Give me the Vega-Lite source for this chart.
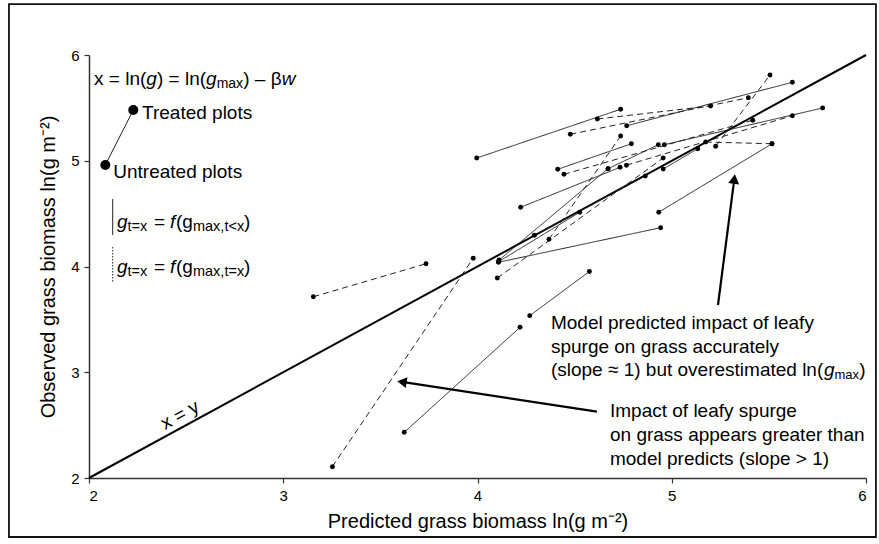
{
  "$schema": "https://vega.github.io/schema/vega-lite/v6.json",
  "width": 777,
  "height": 423,
  "autosize": {"type": "none"},
  "padding": {"left": 89, "top": 55, "right": 13, "bottom": 66},
  "background": "white",
  "datasets": {
    "segs": [
      {"seg": 1, "type": "dashed", "x": 3.155, "y": 3.714}, {"seg": 1, "type": "dashed", "x": 3.735, "y": 4.026},
      {"seg": 2, "type": "dashed", "x": 3.253, "y": 2.107}, {"seg": 2, "type": "dashed", "x": 3.978, "y": 4.078},
      {"seg": 3, "type": "solid", "x": 3.623, "y": 2.432}, {"seg": 3, "type": "solid", "x": 4.219, "y": 3.425},
      {"seg": 4, "type": "solid", "x": 4.269, "y": 3.535}, {"seg": 4, "type": "solid", "x": 4.576, "y": 3.953},
      {"seg": 5, "type": "solid", "x": 4.111, "y": 4.061}, {"seg": 5, "type": "solid", "x": 4.672, "y": 4.925},
      {"seg": 6, "type": "solid", "x": 4.108, "y": 4.040}, {"seg": 6, "type": "solid", "x": 4.943, "y": 4.367},
      {"seg": 7, "type": "solid", "x": 4.108, "y": 4.045}, {"seg": 7, "type": "solid", "x": 4.526, "y": 4.513},
      {"seg": 8, "type": "dashed", "x": 4.368, "y": 4.257}, {"seg": 8, "type": "dashed", "x": 4.737, "y": 5.234},
      {"seg": 9, "type": "solid", "x": 4.222, "y": 4.560}, {"seg": 9, "type": "solid", "x": 4.734, "y": 4.938},
      {"seg": 10, "type": "solid", "x": 4.293, "y": 4.295}, {"seg": 10, "type": "solid", "x": 4.864, "y": 4.856},
      {"seg": 11, "type": "dashed", "x": 4.102, "y": 3.891}, {"seg": 11, "type": "dashed", "x": 4.956, "y": 5.026},
      {"seg": 12, "type": "solid", "x": 3.996, "y": 5.026}, {"seg": 12, "type": "solid", "x": 4.737, "y": 5.487},
      {"seg": 13, "type": "dashed", "x": 4.617, "y": 5.395}, {"seg": 13, "type": "dashed", "x": 5.200, "y": 5.518},
      {"seg": 14, "type": "dashed", "x": 4.478, "y": 5.250}, {"seg": 14, "type": "dashed", "x": 5.394, "y": 5.596},
      {"seg": 15, "type": "solid", "x": 4.768, "y": 5.331}, {"seg": 15, "type": "solid", "x": 5.621, "y": 5.742},
      {"seg": 16, "type": "solid", "x": 4.413, "y": 4.919}, {"seg": 16, "type": "solid", "x": 4.792, "y": 5.161},
      {"seg": 17, "type": "dashed", "x": 4.445, "y": 4.872}, {"seg": 17, "type": "dashed", "x": 5.417, "y": 5.383},
      {"seg": 18, "type": "dashed", "x": 4.767, "y": 4.958}, {"seg": 18, "type": "dashed", "x": 5.621, "y": 5.426},
      {"seg": 19, "type": "solid", "x": 4.956, "y": 4.922}, {"seg": 19, "type": "solid", "x": 5.134, "y": 5.114},
      {"seg": 20, "type": "solid", "x": 4.933, "y": 4.513}, {"seg": 20, "type": "solid", "x": 5.516, "y": 5.161},
      {"seg": 21, "type": "dashed", "x": 5.175, "y": 5.177}, {"seg": 21, "type": "dashed", "x": 5.516, "y": 5.161},
      {"seg": 22, "type": "dashed", "x": 5.506, "y": 5.811}, {"seg": 22, "type": "dashed", "x": 5.226, "y": 5.137},
      {"seg": 23, "type": "solid", "x": 4.962, "y": 5.152}, {"seg": 23, "type": "solid", "x": 5.777, "y": 5.499},
      {"seg": 24, "type": "solid", "x": 4.672, "y": 4.925}, {"seg": 24, "type": "solid", "x": 4.931, "y": 5.152}
    ],
    "legendDots": [
      {"label": "Treated plots", "x": 2.228, "y": 5.48},
      {"label": "Untreated plots", "x": 2.084, "y": 4.96}
    ]
  },
  "encoding": {
    "x": {"type": "quantitative", "scale": {"domain": [2, 6], "nice": false, "zero": false},
      "axis": {"values": [2, 3, 4, 5, 6], "format": "d", "title": "Predicted  grass biomass ln(g m⁻²)", "titlePadding": 8}},
    "y": {"type": "quantitative", "scale": {"domain": [2, 6], "nice": false, "zero": false},
      "axis": {"values": [2, 3, 4, 5, 6], "format": "d", "title": "Observed  grass biomass ln(g m⁻²)", "titlePadding": 12}}
  },
  "layer": [
    {
      "data": {"values": [{}]},
      "mark": {"type": "rect", "fill": null, "filled": false, "stroke": "#111", "strokeWidth": 1.8, "clip": false},
      "encoding": {
        "x": {"datum": 1.588, "type": "quantitative"}, "x2": {"datum": 6.051},
        "y": {"datum": 6.482, "type": "quantitative"}, "y2": {"datum": 1.442}
      }
    },
    {
      "data": {"values": [{}]},
      "mark": {"type": "rule", "color": "black", "strokeWidth": 2},
      "encoding": {
        "x": {"datum": 2, "type": "quantitative"}, "x2": {"datum": 6},
        "y": {"datum": 2, "type": "quantitative"}, "y2": {"datum": 6}
      }
    },
    {
      "data": {"name": "segs"},
      "mark": {"type": "line", "color": "#222", "strokeWidth": 1},
      "encoding": {
        "x": {"field": "x", "type": "quantitative"},
        "y": {"field": "y", "type": "quantitative"},
        "detail": {"field": "seg", "type": "nominal"},
        "strokeDash": {"field": "type", "type": "nominal", "scale": {"domain": ["solid", "dashed"], "range": [[1, 0], [6, 4]]}, "legend": null}
      }
    },
    {
      "data": {"name": "segs"},
      "mark": {"type": "point", "filled": true, "color": "black", "size": 24, "opacity": 1},
      "encoding": {
        "x": {"field": "x", "type": "quantitative"},
        "y": {"field": "y", "type": "quantitative"}
      }
    },
    {
      "data": {"values": [{}]},
      "mark": {"type": "rule", "color": "#222", "strokeWidth": 1},
      "encoding": {
        "x": {"datum": 2.084, "type": "quantitative"}, "x2": {"datum": 2.228},
        "y": {"datum": 4.96, "type": "quantitative"}, "y2": {"datum": 5.48}
      }
    },
    {
      "data": {"name": "legendDots"},
      "mark": {"type": "point", "filled": true, "color": "black", "size": 100, "opacity": 1},
      "encoding": {
        "x": {"field": "x", "type": "quantitative"},
        "y": {"field": "y", "type": "quantitative"}
      }
    },
    {
      "data": {"values": [{}]},
      "mark": {"type": "rule", "color": "#222", "strokeWidth": 1},
      "encoding": {
        "x": {"datum": 2.122, "type": "quantitative"},
        "y": {"datum": 4.638, "type": "quantitative"}, "y2": {"datum": 4.298}
      }
    },
    {
      "data": {"values": [{}]},
      "mark": {"type": "rule", "color": "#222", "strokeWidth": 1, "strokeDash": [1.5, 1.5]},
      "encoding": {
        "x": {"datum": 2.122, "type": "quantitative"},
        "y": {"datum": 4.184, "type": "quantitative"}, "y2": {"datum": 3.844}
      }
    },
    {"data": {"values": [{}]}, "mark": {"type": "text", "text": "x = ln(", "align": "left", "baseline": "middle", "fontSize": 19, "dx": 0},
      "encoding": {"x": {"datum": 2.026, "type": "quantitative"}, "y": {"datum": 5.773, "type": "quantitative"}}},
    {"data": {"values": [{}]}, "mark": {"type": "text", "text": "g", "align": "left", "baseline": "middle", "fontSize": 19, "fontStyle": "italic", "dx": 52.3},
      "encoding": {"x": {"datum": 2.026, "type": "quantitative"}, "y": {"datum": 5.773, "type": "quantitative"}}},
    {"data": {"values": [{}]}, "mark": {"type": "text", "text": ") = ln(", "align": "left", "baseline": "middle", "fontSize": 19, "dx": 62.9},
      "encoding": {"x": {"datum": 2.026, "type": "quantitative"}, "y": {"datum": 5.773, "type": "quantitative"}}},
    {"data": {"values": [{}]}, "mark": {"type": "text", "text": "g", "align": "left", "baseline": "middle", "fontSize": 19, "fontStyle": "italic", "dx": 112},
      "encoding": {"x": {"datum": 2.026, "type": "quantitative"}, "y": {"datum": 5.773, "type": "quantitative"}}},
    {"data": {"values": [{}]}, "mark": {"type": "text", "text": "max", "align": "left", "baseline": "middle", "fontSize": 14, "dx": 122.6, "dy": 5},
      "encoding": {"x": {"datum": 2.026, "type": "quantitative"}, "y": {"datum": 5.773, "type": "quantitative"}}},
    {"data": {"values": [{}]}, "mark": {"type": "text", "text": ") – β", "align": "left", "baseline": "middle", "fontSize": 19, "dx": 149.2},
      "encoding": {"x": {"datum": 2.026, "type": "quantitative"}, "y": {"datum": 5.773, "type": "quantitative"}}},
    {"data": {"values": [{}]}, "mark": {"type": "text", "text": "w", "align": "left", "baseline": "middle", "fontSize": 19, "fontStyle": "italic", "dx": 187.6},
      "encoding": {"x": {"datum": 2.026, "type": "quantitative"}, "y": {"datum": 5.773, "type": "quantitative"}}},
    {"data": {"values": [{}]}, "mark": {"type": "text", "text": "Treated plots", "align": "left", "baseline": "middle", "fontSize": 19},
      "encoding": {"x": {"datum": 2.273, "type": "quantitative"}, "y": {"datum": 5.452, "type": "quantitative"}}},
    {"data": {"values": [{}]}, "mark": {"type": "text", "text": "Untreated plots", "align": "left", "baseline": "middle", "fontSize": 19},
      "encoding": {"x": {"datum": 2.125, "type": "quantitative"}, "y": {"datum": 4.897, "type": "quantitative"}}},

    {"data": {"values": [{}]}, "mark": {"type": "text", "text": "g", "align": "left", "baseline": "middle", "fontSize": 19, "fontStyle": "italic", "dx": 0},
      "encoding": {"x": {"datum": 2.144, "type": "quantitative"}, "y": {"datum": 4.424, "type": "quantitative"}}},
    {"data": {"values": [{}]}, "mark": {"type": "text", "text": "t=x", "align": "left", "baseline": "middle", "fontSize": 14.5, "dx": 10.5, "dy": 5},
      "encoding": {"x": {"datum": 2.144, "type": "quantitative"}, "y": {"datum": 4.424, "type": "quantitative"}}},
    {"data": {"values": [{}]}, "mark": {"type": "text", "text": "=", "align": "left", "baseline": "middle", "fontSize": 19, "dx": 37},
      "encoding": {"x": {"datum": 2.144, "type": "quantitative"}, "y": {"datum": 4.424, "type": "quantitative"}}},
    {"data": {"values": [{}]}, "mark": {"type": "text", "text": "f", "align": "left", "baseline": "middle", "fontSize": 19, "fontStyle": "italic", "dx": 53},
      "encoding": {"x": {"datum": 2.144, "type": "quantitative"}, "y": {"datum": 4.424, "type": "quantitative"}}},
    {"data": {"values": [{}]}, "mark": {"type": "text", "text": "(g", "align": "left", "baseline": "middle", "fontSize": 19, "dx": 59},
      "encoding": {"x": {"datum": 2.144, "type": "quantitative"}, "y": {"datum": 4.424, "type": "quantitative"}}},
    {"data": {"values": [{}]}, "mark": {"type": "text", "text": "max,t<x", "align": "left", "baseline": "middle", "fontSize": 14.5, "dx": 76, "dy": 5},
      "encoding": {"x": {"datum": 2.144, "type": "quantitative"}, "y": {"datum": 4.424, "type": "quantitative"}}},
    {"data": {"values": [{}]}, "mark": {"type": "text", "text": ")", "align": "left", "baseline": "middle", "fontSize": 19, "dx": 127},
      "encoding": {"x": {"datum": 2.144, "type": "quantitative"}, "y": {"datum": 4.424, "type": "quantitative"}}},

    {"data": {"values": [{}]}, "mark": {"type": "text", "text": "g", "align": "left", "baseline": "middle", "fontSize": 19, "fontStyle": "italic", "dx": 0},
      "encoding": {"x": {"datum": 2.144, "type": "quantitative"}, "y": {"datum": 3.998, "type": "quantitative"}}},
    {"data": {"values": [{}]}, "mark": {"type": "text", "text": "t=x", "align": "left", "baseline": "middle", "fontSize": 14.5, "dx": 10.5, "dy": 5},
      "encoding": {"x": {"datum": 2.144, "type": "quantitative"}, "y": {"datum": 3.998, "type": "quantitative"}}},
    {"data": {"values": [{}]}, "mark": {"type": "text", "text": "=", "align": "left", "baseline": "middle", "fontSize": 19, "dx": 37},
      "encoding": {"x": {"datum": 2.144, "type": "quantitative"}, "y": {"datum": 3.998, "type": "quantitative"}}},
    {"data": {"values": [{}]}, "mark": {"type": "text", "text": "f", "align": "left", "baseline": "middle", "fontSize": 19, "fontStyle": "italic", "dx": 53},
      "encoding": {"x": {"datum": 2.144, "type": "quantitative"}, "y": {"datum": 3.998, "type": "quantitative"}}},
    {"data": {"values": [{}]}, "mark": {"type": "text", "text": "(g", "align": "left", "baseline": "middle", "fontSize": 19, "dx": 59},
      "encoding": {"x": {"datum": 2.144, "type": "quantitative"}, "y": {"datum": 3.998, "type": "quantitative"}}},
    {"data": {"values": [{}]}, "mark": {"type": "text", "text": "max,t=x", "align": "left", "baseline": "middle", "fontSize": 14.5, "dx": 76, "dy": 5},
      "encoding": {"x": {"datum": 2.144, "type": "quantitative"}, "y": {"datum": 3.998, "type": "quantitative"}}},
    {"data": {"values": [{}]}, "mark": {"type": "text", "text": ")", "align": "left", "baseline": "middle", "fontSize": 19, "dx": 127},
      "encoding": {"x": {"datum": 2.144, "type": "quantitative"}, "y": {"datum": 3.998, "type": "quantitative"}}},

    {"data": {"values": [{}]}, "mark": {"type": "text", "text": "Model predicted impact of leafy", "align": "left", "baseline": "middle", "fontSize": 19},
      "encoding": {"x": {"datum": 4.378, "type": "quantitative"}, "y": {"datum": 3.466, "type": "quantitative"}}},
    {"data": {"values": [{}]}, "mark": {"type": "text", "text": "spurge on grass accurately", "align": "left", "baseline": "middle", "fontSize": 19},
      "encoding": {"x": {"datum": 4.378, "type": "quantitative"}, "y": {"datum": 3.239, "type": "quantitative"}}},
    {"data": {"values": [{}]}, "mark": {"type": "text", "text": "(slope ≈ 1) but overestimated ln(", "align": "left", "baseline": "middle", "fontSize": 19},
      "encoding": {"x": {"datum": 4.378, "type": "quantitative"}, "y": {"datum": 3.021, "type": "quantitative"}}},
    {"data": {"values": [{}]}, "mark": {"type": "text", "text": "g", "align": "left", "baseline": "middle", "fontSize": 19, "fontStyle": "italic", "dx": 273},
      "encoding": {"x": {"datum": 4.378, "type": "quantitative"}, "y": {"datum": 3.021, "type": "quantitative"}}},
    {"data": {"values": [{}]}, "mark": {"type": "text", "text": "max", "align": "left", "baseline": "middle", "fontSize": 13, "dx": 283.6, "dy": 5},
      "encoding": {"x": {"datum": 4.378, "type": "quantitative"}, "y": {"datum": 3.021, "type": "quantitative"}}},
    {"data": {"values": [{}]}, "mark": {"type": "text", "text": ")", "align": "left", "baseline": "middle", "fontSize": 19, "dx": 308.2},
      "encoding": {"x": {"datum": 4.378, "type": "quantitative"}, "y": {"datum": 3.021, "type": "quantitative"}}},

    {"data": {"values": [{}]}, "mark": {"type": "text", "text": "Impact of leafy spurge", "align": "left", "baseline": "middle", "fontSize": 19},
      "encoding": {"x": {"datum": 4.682, "type": "quantitative"}, "y": {"datum": 2.634, "type": "quantitative"}}},
    {"data": {"values": [{}]}, "mark": {"type": "text", "text": "on grass appears greater than", "align": "left", "baseline": "middle", "fontSize": 19},
      "encoding": {"x": {"datum": 4.682, "type": "quantitative"}, "y": {"datum": 2.407, "type": "quantitative"}}},
    {"data": {"values": [{}]}, "mark": {"type": "text", "text": "model predicts (slope > 1)", "align": "left", "baseline": "middle", "fontSize": 19},
      "encoding": {"x": {"datum": 4.682, "type": "quantitative"}, "y": {"datum": 2.180, "type": "quantitative"}}},

    {"data": {"values": [{}]}, "mark": {"type": "text", "text": "x = y", "align": "center", "baseline": "middle", "fontSize": 19, "angle": 331.4},
      "encoding": {"x": {"datum": 2.468, "type": "quantitative"}, "y": {"datum": 2.596, "type": "quantitative"}}},

    {"data": {"values": [{}]}, "mark": {"type": "rule", "color": "black", "strokeWidth": 2.2},
      "encoding": {"x": {"datum": 5.238, "type": "quantitative"}, "x2": {"datum": 5.322}, "y": {"datum": 3.636, "type": "quantitative"}, "y2": {"datum": 4.827}}},
    {"data": {"values": [{}]}, "mark": {"type": "point", "shape": "triangle-up", "filled": true, "color": "black", "opacity": 1, "size": 120, "angle": 7.3},
      "encoding": {"x": {"datum": 5.322, "type": "quantitative"}, "y": {"datum": 4.827, "type": "quantitative"}}},
    {"data": {"values": [{}]}, "mark": {"type": "rule", "color": "black", "strokeWidth": 2.2},
      "encoding": {"x": {"datum": 4.615, "type": "quantitative"}, "x2": {"datum": 3.611}, "y": {"datum": 2.627, "type": "quantitative"}, "y2": {"datum": 2.909}}},
    {"data": {"values": [{}]}, "mark": {"type": "point", "shape": "triangle-up", "filled": true, "color": "black", "opacity": 1, "size": 120, "angle": 278.7},
      "encoding": {"x": {"datum": 3.611, "type": "quantitative"}, "y": {"datum": 2.909, "type": "quantitative"}}}
  ],
  "config": {
    "font": "Liberation Sans",
    "view": {"stroke": null},
    "text": {"font": "Liberation Sans", "color": "black"},
    "axis": {
      "grid": false,
      "domainColor": "#333",
      "domainWidth": 1.5,
      "tickColor": "#333",
      "tickWidth": 1.2,
      "tickSize": 5,
      "labelFont": "Liberation Sans",
      "labelFontSize": 15,
      "labelColor": "black",
      "labelPadding": 5,
      "titleFont": "Liberation Sans",
      "titleFontSize": 20,
      "titleFontWeight": "normal",
      "titleColor": "black"
    }
  }
}
